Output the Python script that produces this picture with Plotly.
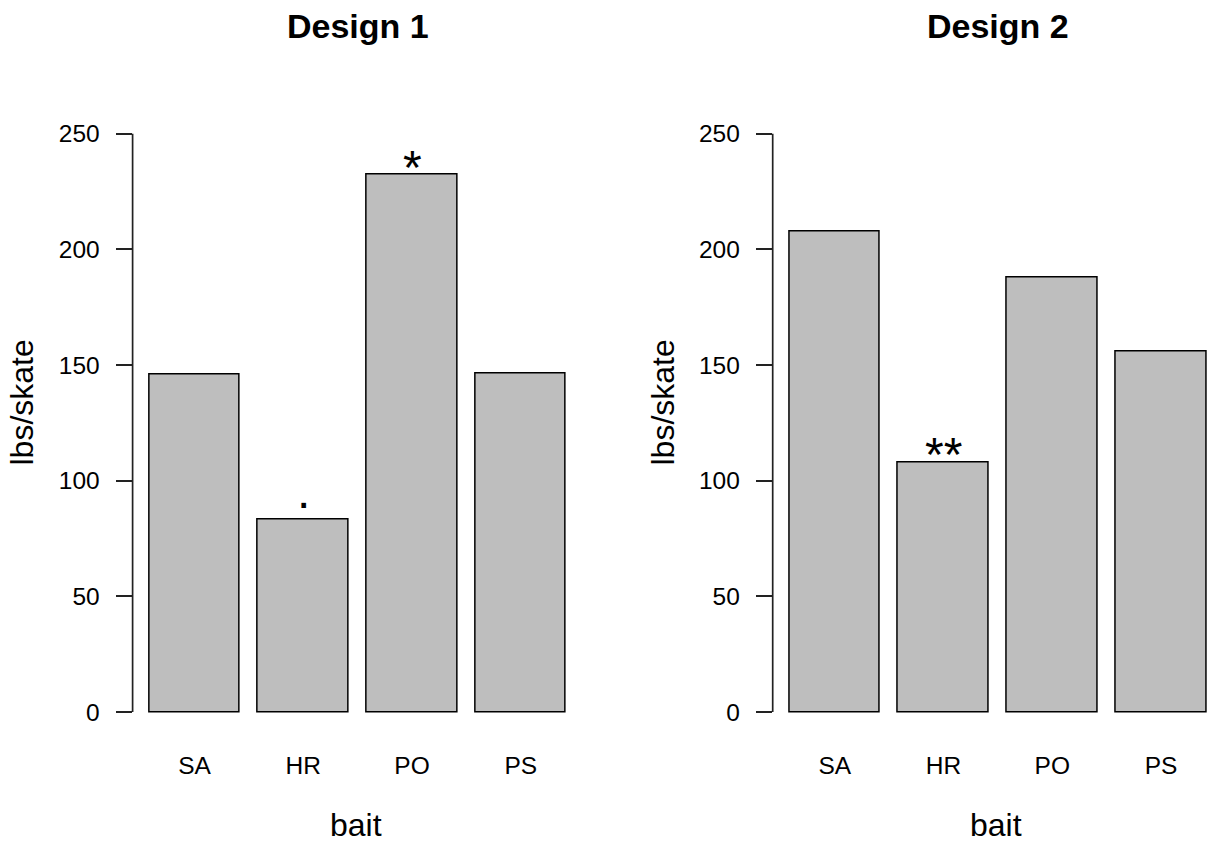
import plotly.graph_objects as go

# ---- data ----
categories = ["SA", "HR", "PO", "PS"]
design1_values = [145.8, 83.3, 232.4, 146.2]
design2_values = [207.6, 107.7, 187.7, 156.0]
design1_marks = ["", ".", "*", ""]
design2_marks = ["", "**", "", ""]
y_ticks = [0, 50, 100, 150, 200, 250]
panel_titles = ["Design 1", "Design 2"]

# ---- layout helpers ----
W, H = 1207, 845
FONT = "Liberation Sans, Arial, Helvetica, sans-serif"
BAR_W = 1.0
SPACE = 0.2
xpos = [SPACE + BAR_W / 2 + i * (BAR_W + SPACE) for i in range(len(categories))]


def px(x):
    return x / W


def py(y):
    return 1 - y / H


fig = go.Figure()

panels = [
    dict(vals=design1_values, marks=design1_marks, xa="x", ya="y",
         dom=[px(132.6), px(582.7)], rng=[0.016, 4.984]),
    dict(vals=design2_values, marks=design2_marks, xa="x2", ya="y2",
         dom=[px(772.7), 1.0], rng=[0.016, 4.806]),
]

mark_shift = {".": -1, "*": -22, "**": -20}

for i, p in enumerate(panels):
    fig.add_trace(go.Bar(
        x=xpos, y=p["vals"], width=BAR_W,
        marker=dict(color="#BEBEBE", line=dict(color="black", width=1.5)),
        xaxis=p["xa"], yaxis=p["ya"], showlegend=False, hoverinfo="skip",
    ))
    for xv, yv, m in zip(xpos, p["vals"], p["marks"]):
        if m:
            fig.add_annotation(
                x=xv, y=yv, xref=p["xa"], yref=p["ya"], text=m,
                showarrow=False, yanchor="bottom", xanchor="center",
                yshift=mark_shift[m],
                font=dict(family=FONT, size=48, color="black"),
            )

ydom = [py(735.2), py(110.5)]
common_x = dict(
    tickmode="array", tickvals=xpos, ticktext=categories, ticks="",
    showline=False, showgrid=False, zeroline=False,
    tickfont=dict(family=FONT, size=24.5, color="black"),
    ticklabelstandoff=13, fixedrange=True,
)
common_y = dict(
    range=[-10, 260], domain=ydom, tickmode="array", tickvals=y_ticks,
    ticks="outside", ticklen=16, tickwidth=1.7, tickcolor="#222",
    showline=False, showgrid=False, zeroline=False,
    tickfont=dict(family=FONT, size=24.5, color="black"),
    ticklabelstandoff=11, fixedrange=True,
)

fig.update_layout(
    width=W, height=H,
    margin=dict(l=0, r=0, t=0, b=0),
    paper_bgcolor="white", plot_bgcolor="white",
    bargap=0,
    xaxis=dict(domain=panels[0]["dom"], range=panels[0]["rng"], anchor="y", **common_x),
    xaxis2=dict(domain=panels[1]["dom"], range=panels[1]["rng"], anchor="y2", **common_x),
    yaxis=dict(anchor="x", **common_y),
    yaxis2=dict(anchor="x2", **common_y),
)

# y axis lines spanning first to last tick, like R
for p in panels:
    fig.add_shape(type="line", xref=p["xa"] + " domain", yref=p["ya"],
                  x0=0, x1=0, y0=y_ticks[0], y1=y_ticks[-1],
                  line=dict(color="#222", width=1.7))

# titles and axis labels
title_x = [357.6, 997.7]
ylab_x = [21, 662]
for i in range(2):
    fig.add_annotation(x=px(title_x[i]), y=py(25.5), xref="paper", yref="paper",
                       text="<b>" + panel_titles[i] + "</b>", showarrow=False,
                       xanchor="center", yanchor="middle",
                       font=dict(family=FONT, size=34, color="black"))
    fig.add_annotation(x=px(title_x[i] - 1.5), y=0.0, xref="paper", yref="paper",
                       text="bait", showarrow=False, xanchor="center", yanchor="bottom",
                       font=dict(family=FONT, size=32, color="black"))
    fig.add_annotation(x=px(ylab_x[i]), y=py(402.5), xref="paper", yref="paper",
                       text="lbs/skate", showarrow=False, textangle=-90,
                       xanchor="center", yanchor="middle",
                       font=dict(family=FONT, size=32, color="black"))

fig.write_html("out.html", config={"displayModeBar": False},
               post_script="document.body.style.margin='0px';")
